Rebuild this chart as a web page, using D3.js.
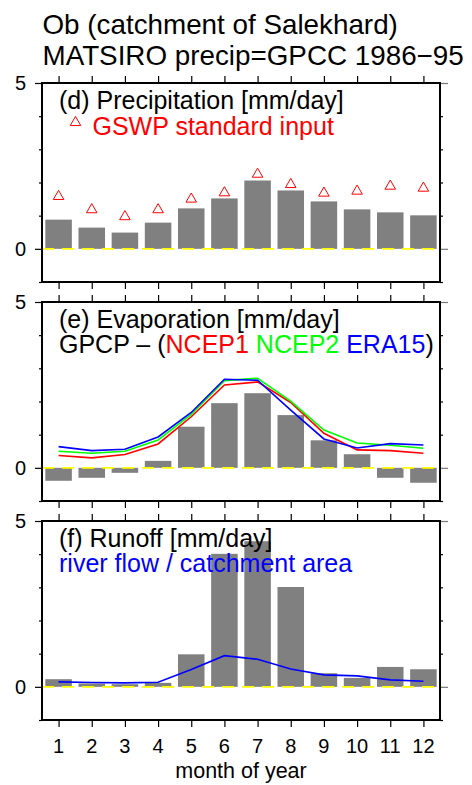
<!DOCTYPE html>
<html>
<head>
<meta charset="utf-8">
<script src="https://cdn.jsdelivr.net/npm/d3@7"></script>
<style>
	body { margin: 0; background: #fff; }
	svg { display: block; font-family: 'Liberation Sans', Arial, Helvetica, sans-serif; }
</style>
</head>
<body>
<div id="vis"></div>
<script>
// DATA
let months = [1, 2, 3, 4, 5, 6, 7, 8, 9, 10, 11, 12];
let yTickLabels = [0, 5];

// (d) precipitation
let precipMatsiro = [0.88, 0.64, 0.49, 0.79, 1.22, 1.52, 2.06, 1.76, 1.43, 1.19, 1.10, 1.01];
let precipGswp = [1.58, 1.18, 0.97, 1.18, 1.50, 1.69, 2.25, 1.94, 1.68, 1.74, 1.89, 1.83];

// (e) evaporation
let evapMatsiro = [-0.39, -0.30, -0.15, 0.21, 1.24, 1.95, 2.25, 1.59, 0.83, 0.41, -0.30, -0.45];
let evapNcep1 = [0.37, 0.30, 0.40, 0.72, 1.54, 2.50, 2.59, 1.97, 1.04, 0.54, 0.52, 0.44];
let evapNcep2 = [0.50, 0.44, 0.50, 0.84, 1.61, 2.63, 2.70, 2.01, 1.14, 0.75, 0.68, 0.59];
let evapEra15 = [0.64, 0.52, 0.56, 0.93, 1.67, 2.67, 2.64, 1.74, 0.87, 0.60, 0.73, 0.69];

// (f) runoff
let runoffMatsiro = [0.23, 0.10, 0.08, 0.12, 0.98, 4.01, 4.39, 3.01, 0.41, 0.27, 0.60, 0.53];
let runoffRiver = [0.15, 0.13, 0.12, 0.14, 0.52, 0.94, 0.83, 0.54, 0.36, 0.33, 0.21, 0.17];

// legend pieces of panel (e)
let evapLegend = [
	{ text: 'GPCP \u2013 (', color: '#000' },
	{ text: 'NCEP1', color: '#ff0000' },
	{ text: '\u00a0NCEP2', color: '#00ff00' },
	{ text: '\u00a0ERA15', color: '#0000ff' },
	{ text: ')', color: '#000' }
];

// PARAMETERS
let width = 472,
	height = 785,
	left = 42,
	right = 440,
	panelHeight = 199,
	panelTops = [83, 302, 521],
	font = 'Liberation Sans, Arial, Helvetica, sans-serif';

let svg = d3
	.select('#vis')
	.append('svg')
	.attr('width', width)
	.attr('height', height);

// TITLE
svg
	.append('text')
	.attr('x', 42.5)
	.attr('y', 33.5)
	.attr('font-size', 27.8)
	.text('Ob (catchment of Salekhard)');
svg
	.append('text')
	.attr('x', 42.5)
	.attr('y', 65)
	.attr('font-size', 27.8)
	.text('MATSIRO precip=GPCC 1986\u221295');

// SCALES
let x = d3.scaleLinear().domain([0.5, 12.5]).range([left, right]);
let bandWidth = (x(2) - x(1)) * 0.8;

let panel = (top, bars) => {
	let y = d3.scaleLinear().domain([-1, 5]).range([top + panelHeight, top]);
	let g = svg.append('g');

	// BARS
	g
		.selectAll('rect.bar')
		.data(bars)
		.enter()
		.append('rect')
		.attr('class', 'bar')
		.attr('x', (d, i) => x(months[i]) - bandWidth / 2)
		.attr('width', bandWidth)
		.attr('y', d => y(Math.max(0, d)))
		.attr('height', d => Math.abs(y(d) - y(0)))
		.attr('fill', '#808080');

	// ZERO LINE
	g
		.append('line')
		.attr('x1', left)
		.attr('x2', right)
		.attr('y1', y(0))
		.attr('y2', y(0))
		.attr('stroke', '#ffff00')
		.attr('stroke-width', 1.6)
		.attr('stroke-dasharray', '12,8');

	// AXES
	let frame = svg.append('g');
	frame
		.append('g')
		.attr('transform', `translate(0,${top})`)
		.call(d3.axisTop(x).tickValues(months).tickSize(7).tickFormat(''))
		.call(a => a.select('.domain').remove());
	frame
		.append('g')
		.attr('transform', `translate(0,${top + panelHeight})`)
		.call(d3.axisBottom(x).tickValues(months).tickSize(7).tickFormat(''))
		.call(a => a.select('.domain').remove());

	// minor y ticks, both sides
	frame
		.append('g')
		.attr('transform', `translate(${left},0)`)
		.call(d3.axisLeft(y).tickValues([-1, 1, 2, 3, 4]).tickSize(3).tickFormat(''))
		.call(a => a.select('.domain').remove());
	frame
		.append('g')
		.attr('transform', `translate(${right},0)`)
		.call(d3.axisRight(y).tickValues([-1, 1, 2, 3, 4]).tickSize(3).tickFormat(''))
		.call(a => a.select('.domain').remove());

	// major y ticks with labels on the left
	frame
		.append('g')
		.attr('transform', `translate(${left},0)`)
		.call(d3.axisLeft(y).tickValues(yTickLabels).tickSize(7).tickPadding(9).tickFormat(d3.format('d')))
		.call(a => a.select('.domain').remove())
		.call(a => a.selectAll('text').attr('font-size', 20).attr('font-family', font).attr('fill', '#000'));
	frame
		.append('g')
		.attr('transform', `translate(${right},0)`)
		.call(d3.axisRight(y).tickValues(yTickLabels).tickSize(8).tickFormat(''))
		.call(a => a.select('.domain').remove())
		.call(a => a.selectAll('line').attr('stroke', '#777'));

	frame.selectAll('.tick line').attr('stroke-width', 1.2);

	frame
		.append('rect')
		.attr('x', left)
		.attr('y', top)
		.attr('width', right - left)
		.attr('height', panelHeight)
		.attr('fill', 'none')
		.attr('stroke', '#000')
		.attr('stroke-width', 2);

	return { g, y };
};

let seriesLine = (g, y, values, color) => {
	g
		.append('path')
		.datum(values)
		.attr('fill', 'none')
		.attr('stroke', color)
		.attr('stroke-width', 1.6)
		.attr(
			'd',
			d3
				.line()
				.x((d, i) => x(months[i]))
				.y(d => y(d))
		);
};

let label = (top, text) =>
	svg
		.append('text')
		.attr('font-size', 25)
		.attr('x', 59)
		.attr('y', top + 26)
		.text(text);

// (d) PRECIPITATION
let pd = panel(panelTops[0], precipMatsiro);
let tri = d3.symbol().type(d3.symbolTriangle).size(48);
pd.g
	.selectAll('path.gswp')
	.data(precipGswp)
	.enter()
	.append('path')
	.attr('class', 'gswp')
	.attr('d', tri)
	.attr('transform', (d, i) => `translate(${x(months[i])},${pd.y(d)})`)
	.attr('fill', 'none')
	.attr('stroke', '#ff0000')
	.attr('stroke-width', 1);
label(panelTops[0], '(d) Precipitation [mm/day]');
svg
	.append('path')
	.attr('d', tri)
	.attr('transform', `translate(75.5,${panelTops[0] + 39.5})`)
	.attr('fill', 'none')
	.attr('stroke', '#ff0000')
	.attr('stroke-width', 1);
svg
	.append('text')
	.attr('x', 92.5)
	.attr('y', panelTops[0] + 51.5)
	.attr('font-size', 25)
	.attr('fill', '#ff0000')
	.text('GSWP standard input');

// (e) EVAPORATION
let pe = panel(panelTops[1], evapMatsiro);
seriesLine(pe.g, pe.y, evapNcep1, '#ff0000');
seriesLine(pe.g, pe.y, evapNcep2, '#00ff00');
seriesLine(pe.g, pe.y, evapEra15, '#0000ff');
label(panelTops[1], '(e) Evaporation [mm/day]');
let legendX = 59;
evapLegend.forEach(p => {
	let t = svg
		.append('text')
		.attr('x', legendX)
		.attr('y', panelTops[1] + 51)
		.attr('font-size', 25)
		.attr('fill', p.color)
		.text(p.text);
	legendX += t.node().getComputedTextLength();
});

// (f) RUNOFF
let pf = panel(panelTops[2], runoffMatsiro);
seriesLine(pf.g, pf.y, runoffRiver, '#0000ff');
label(panelTops[2], '(f) Runoff [mm/day]');
svg
	.append('text')
	.attr('x', 59)
	.attr('y', panelTops[2] + 51)
	.attr('font-size', 25)
	.attr('fill', '#0000ff')
	.text('river flow / catchment area');

// X LABELS
svg
	.append('g')
	.selectAll('text')
	.data(months)
	.enter()
	.append('text')
	.attr('x', d => x(d))
	.attr('y', 753)
	.attr('text-anchor', 'middle')
	.attr('font-size', 20)
	.text(d => d);
svg
	.append('text')
	.attr('x', (left + right) / 2)
	.attr('y', 778)
	.attr('text-anchor', 'middle')
	.attr('font-size', 21.5)
	.text('month of year');
</script>
</body>
</html>
